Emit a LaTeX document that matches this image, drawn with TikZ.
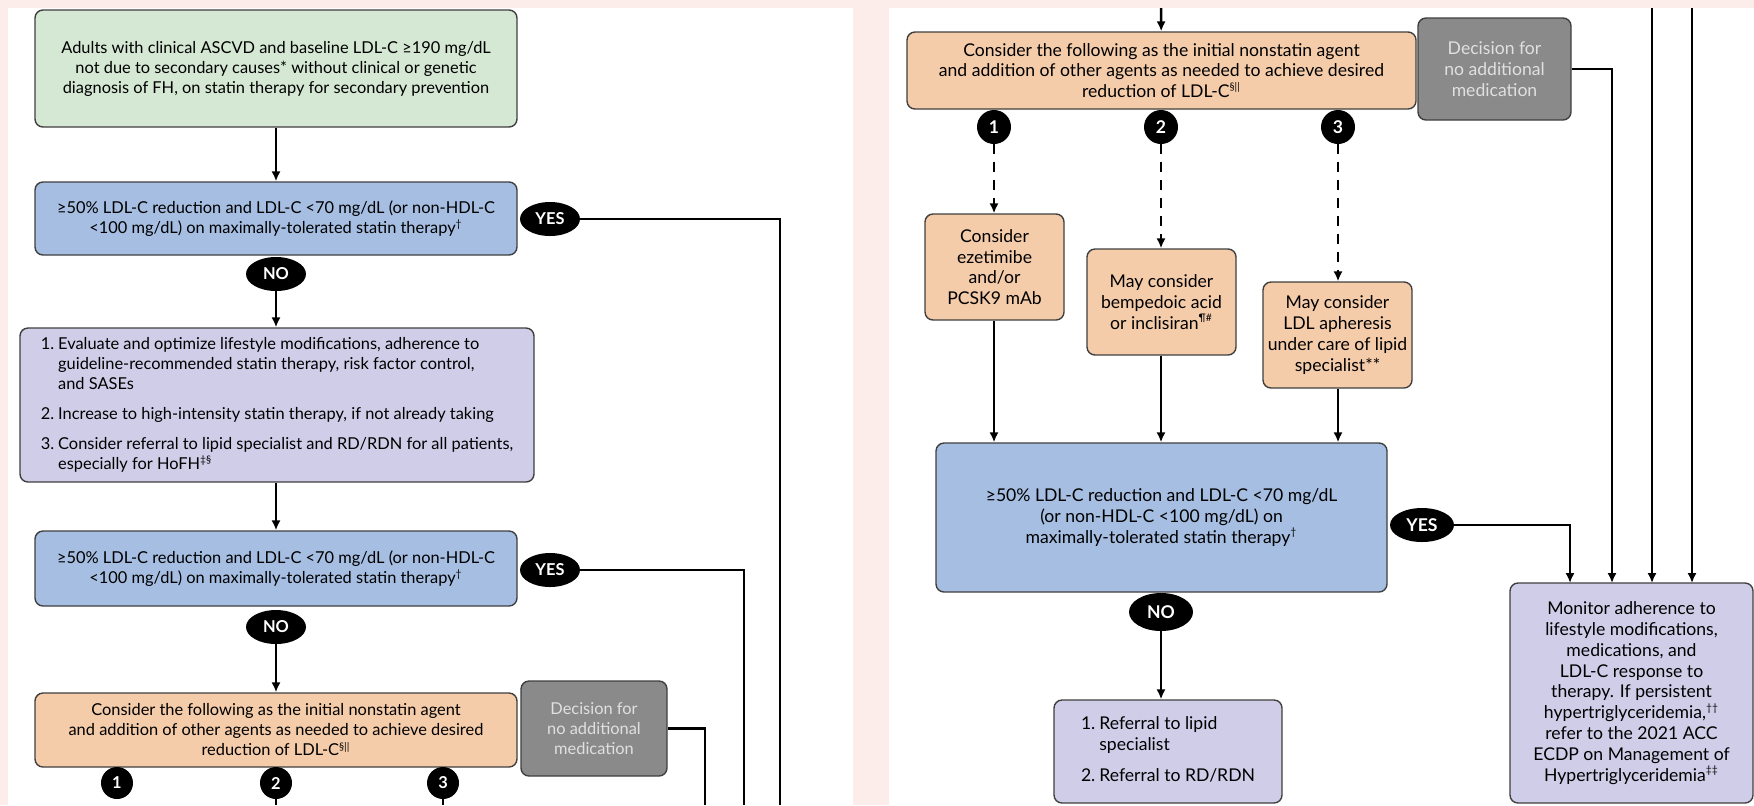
\documentclass[tikz,border=0pt]{standalone}
\usepackage{fontspec}
\setmainfont{Lato}
\usepackage{xcolor}
\usepackage{tikz}
\usetikzlibrary{shapes,arrows}
\usetikzlibrary{positioning}
\usetikzlibrary{arrows.meta}
\tikzset{>=stealth}
\definecolor{bgpink}{RGB}{252,237,234}
\definecolor{edge}{RGB}{64,64,64}
\definecolor{cgreen}{RGB}{213,232,212}
\definecolor{cblue}{RGB}{165,190,226}
\definecolor{clav}{RGB}{208,205,232}
\definecolor{cpeach}{RGB}{245,204,170}
\definecolor{cgrey}{RGB}{138,138,138}
\tikzstyle{line} = [draw, line width=1.25pt, -{Latex[length=5pt,width=4.6pt]}]
\newcommand{\lsz}{\fontsize{8.2pt}{10pt}\selectfont}
\newcommand{\rsz}{\fontsize{8.8pt}{10.4pt}\selectfont}
\newcommand{\fnm}[1]{\textsuperscript{\fontsize{5.2pt}{5.2pt}\selectfont #1}}

\begin{document}
\begin{tikzpicture}[x=0.5pt, y=-0.5pt,
  box/.style={draw=edge, line width=0.7pt, rounded corners=4pt,
  align=center, inner sep=0pt},
  yn/.style={ellipse, fill=black, text=white, inner sep=0pt,
  minimum width=30pt, minimum height=17pt},
  num/.style={circle, fill=black, text=white, inner sep=0pt,
  minimum size=16pt}]
  %% Panels
  \useasboundingbox (0,0) rectangle (1754,805);
  \fill [bgpink] (0,0) rectangle (1754,805);
  \fill [white] (8,8) rectangle (853,805);
  \fill [white] (889,8) rectangle (1754,805);
  %% Left panel
  \node [box, fill=cgreen, minimum width=241pt, minimum height=58.5pt,
  font=\lsz] (G0) at (276,68.5)
  {Adults with clinical ASCVD and baseline LDL-C ≥190 mg/dL\\
  not due to secondary causes* without clinical or genetic\\
  diagnosis of FH, on statin therapy for secondary prevention};
  \node [box, fill=cblue, minimum width=241pt, minimum height=36.5pt,
  font=\lsz] (Q_1) at (276,218.5)
  {≥50\% LDL-C reduction and LDL-C <70 mg/dL (or non-HDL-C\\
  <100 mg/dL) on maximally-tolerated statin therapy\fnm{†}};
  \node [yn, font=\lsz\bfseries] (Y_1) at (550,219) {YES};
  \node [yn, font=\lsz\bfseries] (N_1) at (276,274) {NO};
  \node [box, fill=clav, minimum width=257pt, minimum height=77pt,
  font=\lsz] (L_1) at (277,405)
  {\begin{tabular}{@{}l@{\hspace{2pt}}l@{}}
  1. & Evaluate and optimize lifestyle modifications, adherence to\\
     & guideline-recommended statin therapy, risk factor control,\\
     & and SASEs\\[5pt]
  2. & Increase to high-intensity statin therapy, if not already taking\\[5pt]
  3. & Consider referral to lipid specialist and RD/RDN for all patients,\\
     & especially for HoFH\fnm{‡§}
  \end{tabular}};
  \node [box, fill=cblue, minimum width=241pt, minimum height=37.5pt,
  font=\lsz] (Q_2) at (276,568.5)
  {≥50\% LDL-C reduction and LDL-C <70 mg/dL (or non-HDL-C\\
  <100 mg/dL) on maximally-tolerated statin therapy\fnm{†}};
  \node [yn, font=\lsz\bfseries] (Y_2) at (550,570) {YES};
  \node [yn, font=\lsz\bfseries] (N_2) at (276,627) {NO};
  \node [box, fill=cpeach, minimum width=241pt, minimum height=37pt,
  font=\lsz] (C_1) at (276,730)
  {Consider the following as the initial nonstatin agent\\
  and addition of other agents as needed to achieve desired\\
  reduction of LDL-C\fnm{§||}};
  \node [box, fill=cgrey, text=white!88!black, minimum width=73pt,
  minimum height=47.5pt, font=\lsz] (D_1) at (594,728.5)
  {Decision for\\no additional\\medication};
  \node [num, font=\lsz\bfseries] (K1_1) at (117,783) {1};
  \node [num, font=\lsz\bfseries] (K1_2) at (276,783) {2};
  \node [num, font=\lsz\bfseries] (K1_3) at (443,783) {3};
  \coordinate (e_1) at (780,805);
  \coordinate (e_2) at (744,805);
  \coordinate (e_3) at (705,805);
  \coordinate (e_4) at (276,805);
  \coordinate (e_5) at (443,805);
  %% Left arrows
  \path [line] (G0) to (Q_1);
  \path [line] (N_1) to (N_1 |- L_1.north);
  \path [line] (L_1.south -| Q_2) to (Q_2);
  \path [line] (N_2) to (C_1);
  \draw [-, line width=1.25pt] (Y_1) -| (e_1);
  \draw [-, line width=1.25pt] (Y_2) -| (e_2);
  \draw [-, line width=1.25pt] (D_1) -| (e_3);
  \draw [-, line width=1.25pt, dash pattern=on 5pt off 4pt] (K1_2) -- (e_4);
  \draw [-, line width=1.25pt, dash pattern=on 5pt off 4pt] (K1_3) -- (e_5);
  %% Right panel
  \node [box, fill=cpeach, minimum width=254.5pt, minimum height=38.5pt,
  font=\rsz] (C_2) at (1161.5,70.5)
  {Consider the following as the initial nonstatin agent\\
  and addition of other agents as needed to achieve desired\\
  reduction of LDL-C\fnm{§||}};
  \node [box, fill=cgrey, text=white!88!black, minimum width=76.5pt,
  minimum height=51pt, font=\rsz] (D_2) at (1494.5,69)
  {Decision for\\no additional\\medication};
  \node [num, minimum size=17pt, font=\rsz\bfseries] (K2_1) at (994,127) {1};
  \node [num, minimum size=17pt, font=\rsz\bfseries] (K2_2) at (1161,127) {2};
  \node [num, minimum size=17pt, font=\rsz\bfseries] (K2_3) at (1338,127) {3};
  \node [box, fill=cpeach, minimum width=69.5pt, minimum height=53pt,
  font=\rsz] (A_1) at (994.5,267)
  {Consider\\ezetimibe\\and/or\\PCSK9 mAb};
  \node [box, fill=cpeach, minimum width=74.5pt, minimum height=53pt,
  font=\rsz] (A_2) at (1161.5,302)
  {May consider\\bempedoic acid\\or inclisiran\fnm{¶\#}};
  \node [box, fill=cpeach, minimum width=74.5pt, minimum height=53pt,
  font=\rsz] (A_3) at (1337.5,335)
  {May consider\\LDL apheresis\\under care of lipid\\specialist**};
  \node [box, fill=cblue, minimum width=225.5pt, minimum height=74.5pt,
  font=\rsz] (Q_3) at (1161.5,517.5)
  {≥50\% LDL-C reduction and LDL-C <70 mg/dL\\
  (or non-HDL-C <100 mg/dL) on\\
  maximally-tolerated statin therapy\fnm{†}};
  \node [yn, minimum width=32pt, font=\rsz\bfseries] (Y_3) at (1422,525) {YES};
  \node [yn, minimum width=32pt, minimum height=19pt, font=\rsz\bfseries]
  (N_3) at (1161,612) {NO};
  \node [box, fill=clav, minimum width=114pt, minimum height=51.5pt,
  font=\rsz] (R_1) at (1168,751.5)
  {\begin{tabular}{@{}l@{\hspace{2pt}}l@{}}
  1. & Referral to lipid\\
     & specialist\\[5pt]
  2. & Referral to RD/RDN
  \end{tabular}};
  \node [box, fill=clav, minimum width=121.5pt, minimum height=110pt,
  font=\rsz] (Mo) at (1631.5,693)
  {Monitor adherence to\\lifestyle modifications,\\medications, and\\
  LDL-C response to\\therapy. If persistent\\
  hypertriglyceridemia,\fnm{††}\\refer to the 2021 ACC\\
  ECDP on Management of\\Hypertriglyceridemia\fnm{‡‡}};
  \coordinate (t_1) at (1161,8);
  \coordinate (t_2) at (1652,8);
  \coordinate (t_3) at (1692,8);
  \coordinate (m_1) at (1570,583);
  \coordinate (m_2) at (1612,583);
  \coordinate (m_3) at (1652,583);
  \coordinate (m_4) at (1692,583);
  %% Right arrows
  \path [line] (t_1) to (C_2);
  \path [line, dash pattern=on 5pt off 4pt] (K2_1) to (K2_1 |- A_1.north);
  \path [line, dash pattern=on 5pt off 4pt] (K2_2) to (K2_2 |- A_2.north);
  \path [line, dash pattern=on 5pt off 4pt] (K2_3) to (K2_3 |- A_3.north);
  \path [line] (K2_1 |- A_1.south) to (K2_1 |- Q_3.north);
  \path [line] (K2_2 |- A_2.south) to (K2_2 |- Q_3.north);
  \path [line] (K2_3 |- A_3.south) to (K2_3 |- Q_3.north);
  \path [line] (N_3) to (N_3 |- R_1.north);
  \path [line] (Y_3) -| (m_1);
  \path [line] (D_2) -| (m_2);
  \path [line] (t_2) to (m_3);
  \path [line] (t_3) to (m_4);
\end{tikzpicture}
\end{document}
